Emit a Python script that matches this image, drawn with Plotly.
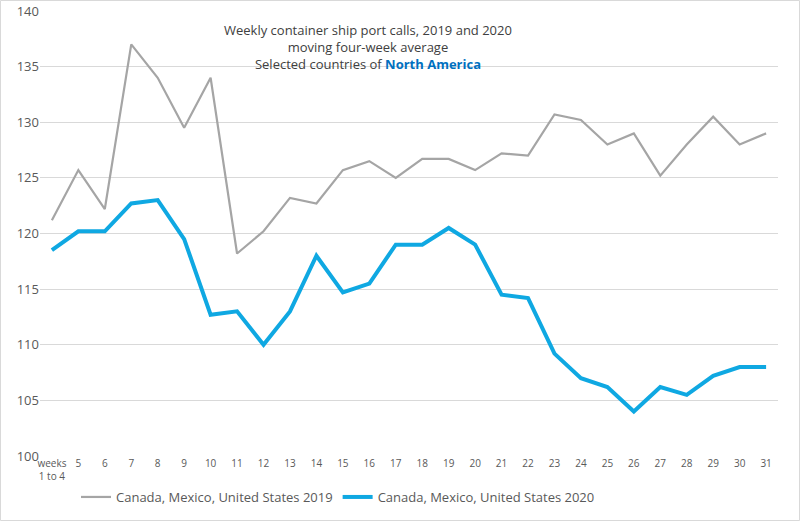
import plotly.graph_objects as go

weeks = ["weeks<br>1 to 4"] + [str(w) for w in range(5, 32)]
calls_2019 = [121.2, 125.7, 122.2, 137.0, 134.0, 129.5, 134.0, 118.2, 120.2, 123.2,
              122.7, 125.7, 126.5, 125.0, 126.7, 126.7, 125.7, 127.2, 127.0, 130.7,
              130.2, 128.0, 129.0, 125.2, 128.0, 130.5, 128.0, 129.0]
calls_2020 = [118.5, 120.2, 120.2, 122.7, 123.0, 119.5, 112.7, 113.0, 110.0, 113.0,
              118.0, 114.7, 115.5, 119.0, 119.0, 120.5, 119.0, 114.5, 114.2, 109.2,
              107.0, 106.2, 104.0, 106.2, 105.5, 107.2, 108.0, 108.0]
y_ticks = [100, 105, 110, 115, 120, 125, 130, 135, 140]

fig = go.Figure()
fig.add_trace(go.Scatter(x=weeks, y=calls_2019, mode="lines",
                         name="Canada, Mexico, United States 2019",
                         line=dict(color="#a5a5a5", width=2.2)))
fig.add_trace(go.Scatter(x=weeks, y=calls_2020, mode="lines",
                         name="Canada, Mexico, United States 2020",
                         line=dict(color="#0fa8e2", width=4)))

L, R, T, B = 40, 22, 11, 65
W, H = 800, 521
pw, ph = W - L - R, H - T - B

fig.update_layout(
    width=W, height=H,
    margin=dict(l=L, r=R, t=T, b=B, autoexpand=False),
    paper_bgcolor="white", plot_bgcolor="white",
    font=dict(family="Open Sans, Liberation Sans, sans-serif", color="#595959"),
    showlegend=True,
    legend=dict(orientation="h", x=(76 - L) / pw, xanchor="left",
                y=-(26) / ph, yanchor="top",
                font=dict(size=13, color="#595959"), tracegroupgap=0),
    xaxis=dict(type="category", showgrid=False, zeroline=False, showline=False,
               ticks="", tickfont=dict(size=10, color="#595959"),
               range=[-0.45, len(weeks) - 0.55]),
    yaxis=dict(range=[100, 140], tickvals=y_ticks, showgrid=True,
               gridcolor="#d9d9d9", gridwidth=1, zeroline=False, showline=False,
               ticks="", tickfont=dict(size=13, color="#595959")),
    annotations=[dict(
        xref="paper", yref="paper", x=(368 - L) / pw, y=1 - (19 - T) / ph,
        xanchor="center", yanchor="top", showarrow=False, align="center",
        text=("Weekly container ship port calls, 2019 and 2020<br>"
              "moving four-week average<br>"
              "Selected countries of <b><span style='color:#0070c0'>North America</span></b>"),
        font=dict(size=13, color="#404040"))],
    shapes=[dict(type="rect", xref="paper", yref="paper",
                 x0=(0.5 - L) / pw, x1=(W - 0.5 - L) / pw,
                 y0=-(B - 0.5) / ph, y1=1 + (T - 0.5) / ph,
                 line=dict(color="#d9d9d9", width=1), layer="below")],
)

fig.write_html("out.html", config={"displayModeBar": False},
               post_script="document.body.style.margin='0';")
